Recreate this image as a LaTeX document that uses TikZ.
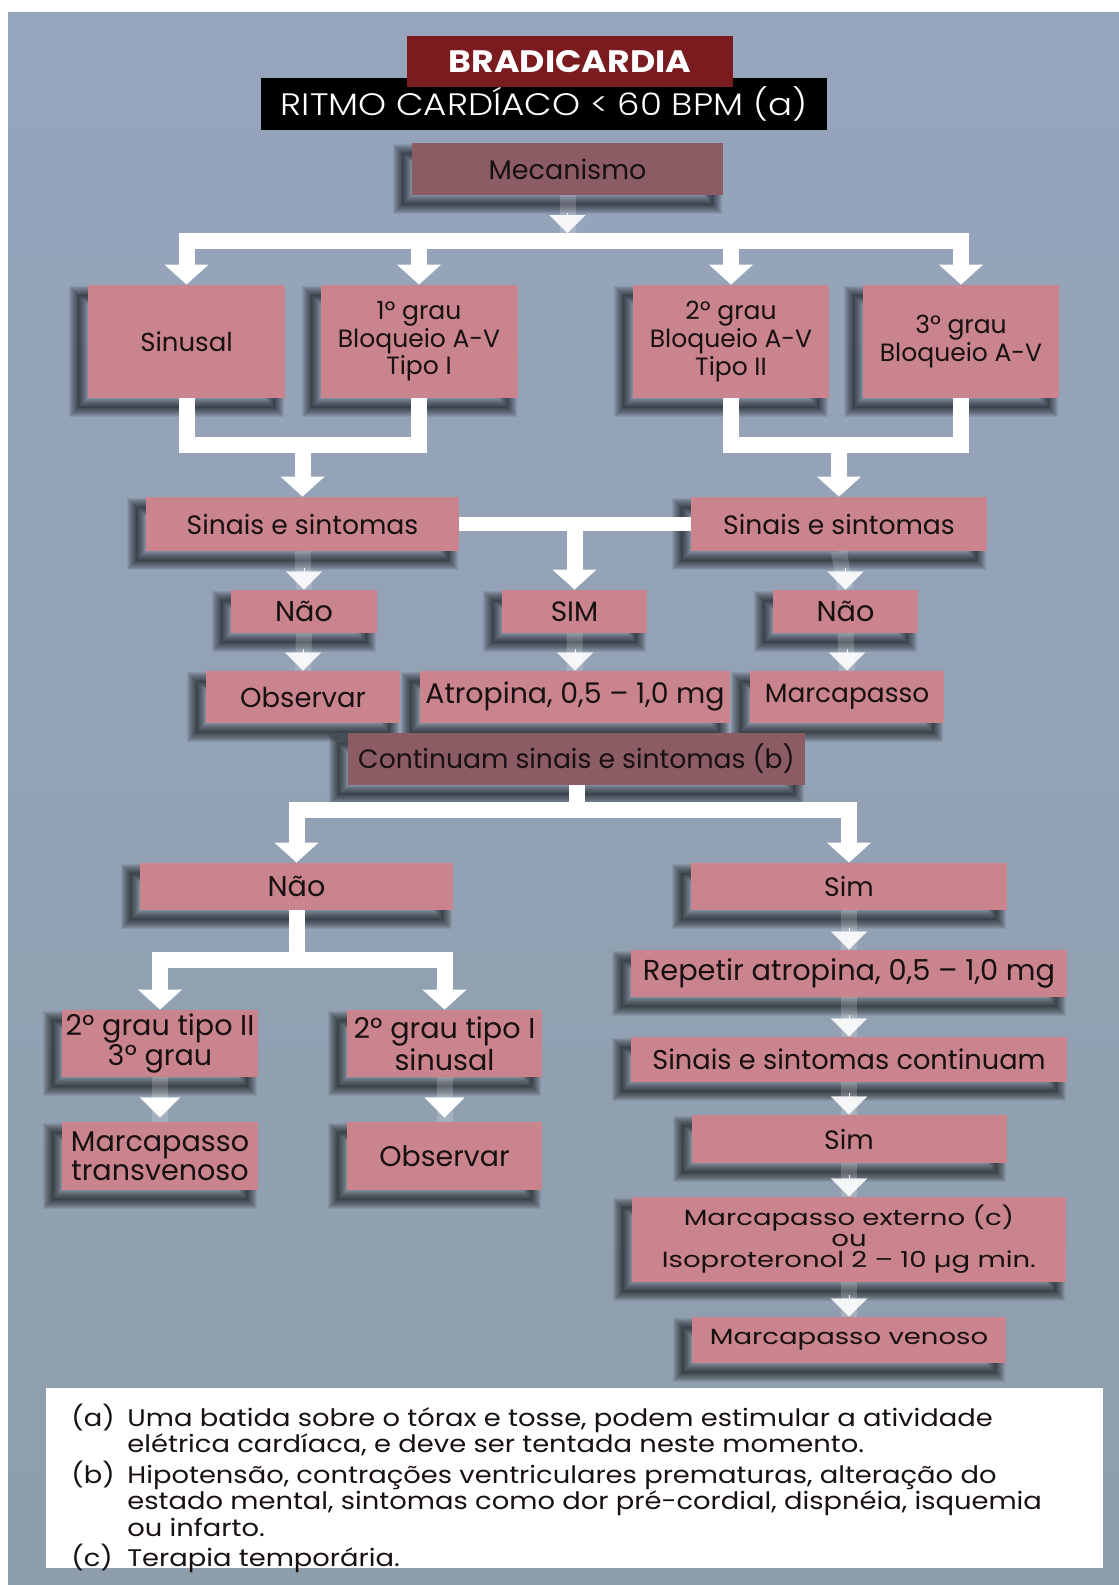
\documentclass[tikz,border=0pt]{standalone}
\usepackage{fontspec}
\setmainfont{Poppins}
\newfontfamily\widefont{Poppins}[FakeStretch=1.25]
\newfontfamily\notefont{Poppins}[FakeStretch=1.14]
\newfontfamily\headfont{Poppins}[FakeStretch=1.12]
\newfontfamily\lightfont{Poppins Light}[FakeStretch=1.15]
\usetikzlibrary{arrows.meta,shadows,calc}

\definecolor{bgtop}{RGB}{150,165,188}
\definecolor{bgbot}{RGB}{143,158,172}
\definecolor{pinkc}{RGB}{201,132,141}
\definecolor{mauve}{RGB}{139,92,100}
\definecolor{titlered}{RGB}{121,27,31}
\definecolor{ink}{RGB}{24,16,18}

\newcommand\fs[1]{\fontsize{#1}{12.75}\selectfont}

\tikzset{
  shadowring/.style={general shadow={draw=black, line width=#1, opacity=.075,
                     shadow xshift=-5pt, shadow yshift=-5pt}},
  softshadow/.style={
    shadowring=9pt, shadowring=8pt, shadowring=7pt, shadowring=6pt,
    shadowring=5pt, shadowring=4pt, shadowring=3pt, shadowring=2pt,
    shadowring=1pt,
    general shadow={fill=black, opacity=.14, shadow xshift=-5pt, shadow yshift=-5pt}},
  fbox/.style={fill=pinkc, text=ink, inner sep=0pt, align=center, font=\fs{13.5}, softshadow},
  dbox/.style={fbox, fill=mauve},
  wh/.style 2 args={minimum width=#1*0.5pt, minimum height=#2*0.5pt},
  pipe/.style={draw=white, line width=8pt},
  bus/.style={pipe, line cap=rect},
  bigarrow/.style={pipe, -{Triangle[width=21.5pt,length=10pt]}},
  faint/.style={draw=white, line width=8pt, opacity=.18},
  head/.style={draw=white, line width=0.1pt, opacity=.9,
               -{Triangle[width=18pt,length=9pt]}},
  solidhead/.style={draw=white, line width=0.1pt,
               -{Triangle[width=20pt,length=10pt]}},
}

\begin{document}
\begin{tikzpicture}[x=0.5pt,y=-0.5pt]
\useasboundingbox (0,0) rectangle (1119,1585);

% page and tinted panel
\fill[white] (0,0) rectangle (1119,1585);
\shade[top color=bgtop, bottom color=bgbot] (8,12) rectangle (1119,1585);

% heading
\node[fill=black, wh={566}{52}, inner sep=0pt, text=white,
      font=\lightfont\fontsize{15.5}{16}\selectfont] (rate) at (544,104)
      {\raisebox{-1.5pt}{RITMO CARDÍACO < 60 BPM (a)}};
\node[fill=titlered, wh={326}{51}, inner sep=0pt, text=white,
      font=\headfont\fontsize{15.5}{16}\selectfont\bfseries] (title) at (570,61.5) {BRADICARDIA};

% flow boxes
\node[dbox, wh={311}{52}, font=\fs{13.5}] (mec) at (567.5,169) {Mecanismo};

\node[fbox, wh={197}{113}, font=\fs{13}] (sin) at (186.5,341.5) {Sinusal};
\node[fbox, wh={197}{113}, font=\fs{12.5}] (g1)  at (419,341.5) {1º grau\\Bloqueio A-V\\Tipo I};
\node[fbox, wh={196}{113}, font=\fs{12.5}] (g2)  at (731,341.5) {2º grau\\Bloqueio A-V\\Tipo II};
\node[fbox, wh={196}{113}, font=\fs{12.5}] (g3)  at (961,341.5) {3º grau\\Bloqueio A-V};

\node[fbox, wh={313}{54}, font=\fs{13.3}] (ssL) at (302.5,524) {Sinais e sintomas};
\node[fbox, wh={296}{54}, font=\fs{13.3}] (ssR) at (839,524) {Sinais e sintomas};

\node[fbox, wh={146}{43}, font=\fs{14.3}] (naoL) at (304,611.5) {Não};
\node[fbox, wh={145}{43}, font=\fs{14}] (sim1) at (574.5,611.5) {SIM};
\node[fbox, wh={145}{43}, font=\fs{14.3}] (naoR) at (845.5,611.5) {Não};

\node[fbox, wh={194}{52}, font=\fs{13.7}] (obs1) at (303,697) {Observar};
\node[fbox, wh={310}{52}, font=\fs{14.2}] (atro) at (575,697) {Atropina, 0,5 – 1,0 mg};
\node[fbox, wh={194}{52}, font=\fs{13.2}] (marc) at (847,697) {Marcapasso};

\node[dbox, wh={457}{52}, font=\fs{13.3}] (cont) at (576.5,759) {Continuam sinais e sintomas (b)};

\node[fbox, wh={313}{47}, font=\fs{14.3}] (naoB) at (296.5,886.5) {Não};
\node[fbox, wh={316}{47}, font=\fs{13.3}] (simB) at (849,886.5) {Sim};

\node[fbox, wh={196}{67}, font=\fontsize{14.3}{12.5}\selectfont] (tII) at (160,1043.5) {2º grau tipo II\\3º grau};
\node[fbox, wh={195}{67}, font=\fontsize{14.3}{12.5}\selectfont] (tI)  at (444.5,1043.5) {2º grau tipo I\\sinusal};
\node[fbox, wh={196}{68}, font=\fontsize{14.3}{12.5}\selectfont] (mtv) at (160,1156) {Marcapasso\\transvenoso};
\node[fbox, wh={195}{68}, font=\fs{14.2}] (obs2) at (444.5,1156) {Observar};

\node[fbox, wh={436}{47}, font=\fs{14.4}] (rep)  at (849,973.5) {Repetir atropina, 0,5 – 1,0 mg};
\node[fbox, wh={436}{45}, font=\fs{13.6}] (sic)  at (849,1059.5) {Sinais e sintomas continuam};
\node[fbox, wh={315}{48}, font=\fs{13.3}] (sim2) at (849,1139) {Sim};
\node[fbox, wh={434}{85}, font=\widefont\fontsize{11}{10.5}\selectfont] (mext) at (849,1239.5)
      {Marcapasso externo (c)\\ou\\Isoproteronol 2 – 10 µg min.};
\node[fbox, wh={314}{46}, font=\widefont\fontsize{11}{12}\selectfont] (mven) at (849,1340) {Marcapasso venoso};

% bus levels
\coordinate (busTop) at (0,241);
\coordinate (busL) at (0,445);
\coordinate (busC) at (0,810);
\coordinate (busN) at (0,960);

% Mecanismo to the first split
\draw[faint] (mec.south) -- (mec.south |- busTop);
\draw[head] ($(mec.south |- busTop)+(0,-28)$) -- ($(mec.south |- busTop)+(0,-8)$);
\draw[bus] (sin.north |- busTop) -- (g3.north |- busTop);
\foreach \n in {sin,g1,g2,g3} \draw[bigarrow] (\n.north |- busTop) -- (\n.north);

% joins into the two symptom boxes
\draw[pipe] (sin.south) -- (sin.south |- busL);
\draw[pipe] (g1.south) -- (g1.south |- busL);
\draw[bus] (sin.south |- busL) -- (g1.south |- busL);
\draw[bigarrow] (ssL.north |- busL) -- (ssL.north);
\draw[pipe] (g2.south) -- (g2.south |- busL);
\draw[pipe] (g3.south) -- (g3.south |- busL);
\draw[bus] (g2.south |- busL) -- (g3.south |- busL);
\draw[bigarrow] (ssR.north |- busL) -- (ssR.north);

% symptoms present
\draw[pipe, line width=7pt] (ssL.east) -- (ssR.west);
\draw[bigarrow] (sim1.north |- ssL.east) -- (sim1.north);

% small steps
\foreach \a/\b in {ssL/naoL, ssR/naoR, naoL/obs1, sim1/atro, naoR/marc,
                   simB/rep, rep/sic, sic/sim2, sim2/mext, mext/mven} {
  \draw[faint] (\a.south) -- (\b.north);
  \draw[head] ($(\b.north)+(0,-22)$) -- (\b.north);
}
\foreach \a/\b in {tII/mtv, tI/obs2} {
  \draw[faint] (\a.south) -- (\b.north);
  \draw[solidhead] ($(\b.north)+(0,-24)$) -- ($(\b.north)+(0,-4)$);
}

% persisting symptoms
\draw[pipe] (cont.south) -- (cont.south |- busC);
\draw[bus] (naoB.north |- busC) -- (simB.north |- busC);
\draw[bigarrow] (naoB.north |- busC) -- (naoB.north);
\draw[bigarrow] (simB.north |- busC) -- (simB.north);

\draw[pipe] (naoB.south) -- (naoB.south |- busN);
\draw[bus] (tII.north |- busN) -- (tI.north |- busN);
\draw[bigarrow] (tII.north |- busN) -- (tII.north);
\draw[bigarrow] (tI.north |- busN) -- (tI.north);

% footnotes
\node[fill=white, wh={1057}{180}, inner sep=0pt] (notebox) at (574.5,1478) {};
\node[anchor=base west, inner sep=0pt, text=ink,
      font=\notefont\fontsize{12}{12.75}\selectfont] (notes) at (71,1426)
 {\renewcommand\arraystretch{1.04}%
  \begin{tabular}[t]{@{}p{28pt}@{}l@{}}
  (a) & Uma batida sobre o tórax e tosse, podem estimular a atividade\\
      & elétrica cardíaca, e deve ser tentada neste momento.\\
  (b) & Hipotensão, contrações ventriculares prematuras, alteração do\\
      & estado mental, sintomas como dor pré-cordial, dispnéia, isquemia\\
      & ou infarto.\\
  (c) & Terapia temporária.
 \end{tabular}};
\end{tikzpicture}
\end{document}
